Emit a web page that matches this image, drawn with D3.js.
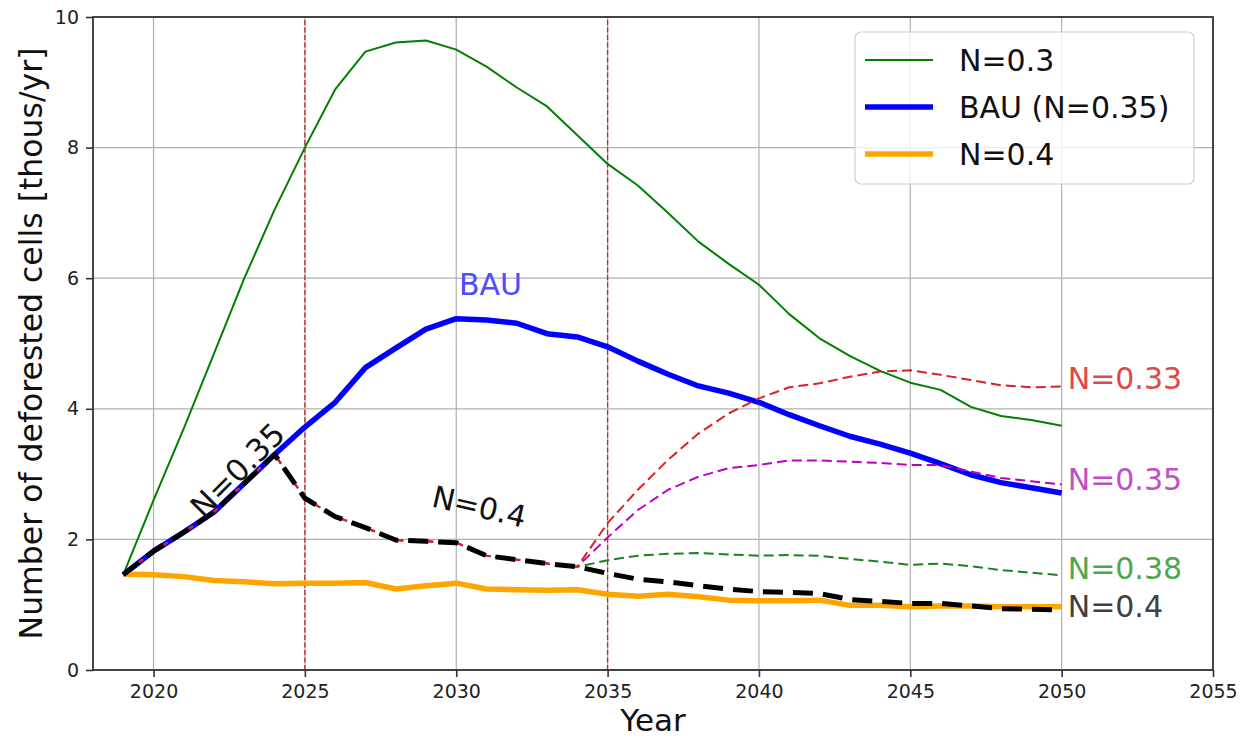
<!DOCTYPE html>
<html>
<head>
<meta charset="utf-8">
<script src="https://cdn.jsdelivr.net/npm/d3@7/dist/d3.min.js"></script>
<style>
  body { margin: 0; background: #fff; }
  text { font-family: "DejaVu Sans", Verdana, sans-serif; }
</style>
</head>
<body>
<div id="chart"></div>
<script>

// data (thousand deforested cells per year)
var years = [2019, 2020, 2021, 2022, 2023, 2024, 2025, 2026, 2027, 2028, 2029,
             2030, 2031, 2032, 2033, 2034, 2035, 2036, 2037, 2038, 2039, 2040,
             2041, 2042, 2043, 2044, 2045, 2046, 2047, 2048, 2049, 2050];

var n030 = [1.46, 2.60, 3.70, 4.85, 6.00, 7.05, 8.00, 8.89, 9.47, 9.61, 9.64,
            9.50, 9.24, 8.92, 8.63, 8.19, 7.75, 7.42, 7.00, 6.56, 6.22, 5.90,
            5.45, 5.08, 4.81, 4.58, 4.40, 4.29, 4.03, 3.89, 3.83, 3.74];

var bau = [1.46, 1.82, 2.11, 2.42, 2.86, 3.30, 3.72, 4.10, 4.63, 4.93, 5.22,
           5.38, 5.36, 5.31, 5.15, 5.10, 4.95, 4.73, 4.53, 4.35, 4.24, 4.10,
           3.91, 3.74, 3.58, 3.46, 3.32, 3.16, 2.99, 2.87, 2.79, 2.71];

var n040 = [1.47, 1.46, 1.43, 1.37, 1.35, 1.32, 1.33, 1.33, 1.34, 1.24, 1.29,
            1.33, 1.24, 1.23, 1.22, 1.23, 1.16, 1.13, 1.16, 1.12, 1.07, 1.06,
            1.06, 1.07, 0.99, 0.99, 0.97, 0.98, 0.98, 0.97, 0.97, 0.97];

// BAU until 2024, then switched to N=0.4
var switch040 = [1.46, 1.82, 2.11, 2.42, 2.86, 3.30, 2.63, 2.35, 2.18, 1.99, 1.97,
                 1.95, 1.75, 1.69, 1.63, 1.58, 1.48, 1.39, 1.35, 1.29, 1.24, 1.20,
                 1.19, 1.17, 1.08, 1.05, 1.02, 1.02, 0.98, 0.94, 0.93, 0.92];

// second switch in 2034
var branchYears = [2034, 2035, 2036, 2037, 2038, 2039, 2040, 2041, 2042,
                   2043, 2044, 2045, 2046, 2047, 2048, 2049, 2050];
var branch033 = [1.58, 2.25, 2.76, 3.22, 3.62, 3.93, 4.16, 4.33, 4.39,
                 4.49, 4.57, 4.59, 4.52, 4.44, 4.36, 4.33, 4.34];
var branch035 = [1.58, 2.03, 2.45, 2.76, 2.96, 3.09, 3.14, 3.21, 3.21,
                 3.19, 3.17, 3.14, 3.14, 3.04, 2.94, 2.89, 2.84];
var branch038 = [1.58, 1.68, 1.75, 1.78, 1.79, 1.77, 1.75, 1.76, 1.75,
                 1.70, 1.66, 1.61, 1.63, 1.59, 1.53, 1.49, 1.45];

var policyYears = [2025, 2035];

var xTicks = [2020, 2025, 2030, 2035, 2040, 2045, 2050, 2055];
var yTicks = [0, 2, 4, 6, 8, 10];

// end labels: [text, y value, colour]
var endLabels = [
  ['N=0.33', 4.47, '#e04848'],
  ['N=0.35', 2.91, '#c24fc2'],
  ['N=0.38', 1.56, '#4ea64e'],
  ['N=0.4', 0.97, '#404040']
];

var width = 1244;
var height = 738;
var margin = {top: 17, right: 31, bottom: 68, left: 93};

var svg = d3.select('#chart')
  .append('svg')
  .attr('width', width)
  .attr('height', height);

var x = d3.scaleLinear()
  .domain([2018, 2055])
  .range([margin.left, width - margin.right]);

var y = d3.scaleLinear()
  .domain([0, 10])
  .range([height - margin.bottom, margin.top]);

function zip(xs, ys){
  return xs.map(function(d, i){ return [d, ys[i]]; });
}

// scenario path = shared path up to 2034 + its own branch
function with_branch(branch){
  var pre = zip(years, switch040).filter(function(d){ return d[0] < 2034; });
  return pre.concat(zip(branchYears, branch));
}

var line = d3.line()
  .x(function(d){ return x(d[0]); })
  .y(function(d){ return y(d[1]); });

// grid
///////////////////////////////////////
var grid = svg.append('g').classed('grid', true);

grid.selectAll('.vgrid')
  .data(xTicks)
  .enter()
  .append('line')
  .attr('x1', function(d){ return x(d); })
  .attr('x2', function(d){ return x(d); })
  .attr('y1', y(0))
  .attr('y2', y(10))
  .style('stroke', '#b0b0b0')
  .style('stroke-width', 1.2);

grid.selectAll('.hgrid')
  .data(yTicks)
  .enter()
  .append('line')
  .attr('x1', x(2018))
  .attr('x2', x(2055))
  .attr('y1', function(d){ return y(d); })
  .attr('y2', function(d){ return y(d); })
  .style('stroke', '#b0b0b0')
  .style('stroke-width', 1.2);

// policy switch years
svg.selectAll('.policy')
  .data(policyYears)
  .enter()
  .append('line')
  .attr('x1', function(d){ return x(d); })
  .attr('x2', function(d){ return x(d); })
  .attr('y1', y(0))
  .attr('y2', y(10))
  .style('stroke', '#cc2020')
  .style('stroke-width', 1.3)
  .style('stroke-dasharray', '5,2.5');

// lines
///////////////////////////////////////
var series = [
  {data: zip(years, n030), color: 'green', lw: 2, dash: null},
  {data: zip(years, bau), color: 'blue', lw: 5.5, dash: null},
  {data: zip(years, n040), color: 'orange', lw: 5.5, dash: null},
  {data: with_branch(branch038), color: '#1d811d', lw: 2, dash: '10,5'},
  {data: with_branch(branch035), color: '#bf00bf', lw: 2, dash: '10,5'},
  {data: with_branch(branch033), color: '#dd2020', lw: 2, dash: '10,5'},
  {data: zip(years, switch040), color: 'black', lw: 5, dash: '20,10'}
];

svg.selectAll('.series')
  .data(series)
  .enter()
  .append('path')
  .attr('d', function(d){ return line(d.data); })
  .style('fill', 'none')
  .style('stroke', function(d){ return d.color; })
  .style('stroke-width', function(d){ return d.lw; })
  .style('stroke-dasharray', function(d){ return d.dash; })
  .style('stroke-linejoin', 'round');

// axes
///////////////////////////////////////
var x_axis = svg.append('g')
  .attr('transform', 'translate(0,' + y(0) + ')')
  .call(d3.axisBottom(x)
    .tickValues(xTicks)
    .tickFormat(d3.format('d'))
    .tickSize(7)
    .tickPadding(8));

var y_axis = svg.append('g')
  .attr('transform', 'translate(' + x(2018) + ',0)')
  .call(d3.axisLeft(y)
    .tickValues(yTicks)
    .tickSize(7)
    .tickPadding(7));

[x_axis, y_axis].forEach(function(ax){
  ax.select('.domain').remove();
  ax.selectAll('.tick line')
    .style('stroke', '#333')
    .style('stroke-width', 1.6);
  ax.selectAll('.tick text')
    .style('font-size', '19px')
    .style('fill', '#222');
});

// frame
svg.append('rect')
  .attr('x', x(2018))
  .attr('y', y(10))
  .attr('width', x(2055) - x(2018))
  .attr('height', y(0) - y(10))
  .style('fill', 'none')
  .style('stroke', '#333')
  .style('stroke-width', 1.8);

svg.append('text')
  .text('Year')
  .attr('x', (x(2018) + x(2055)) / 2)
  .attr('y', 731)
  .style('text-anchor', 'middle')
  .style('font-size', '31px')
  .style('fill', '#111');

svg.append('text')
  .text('Number of deforested cells [thous/yr]')
  .attr('transform', 'translate(42,' + (y(0) + y(10)) / 2 + ') rotate(-90)')
  .style('text-anchor', 'middle')
  .style('font-size', '31.5px')
  .style('fill', '#111');

// annotations
///////////////////////////////////////
svg.append('text')
  .text('BAU')
  .attr('x', x(2031.13))
  .attr('y', y(5.9))
  .style('text-anchor', 'middle')
  .style('dominant-baseline', 'central')
  .style('font-size', '30px')
  .style('fill', '#4d4dff');

svg.append('text')
  .text('N=0.35')
  .attr('transform', 'translate(' + x(2022.77) + ',' + y(3.06) + ') rotate(-45)')
  .style('text-anchor', 'middle')
  .style('dominant-baseline', 'central')
  .style('font-size', '31px')
  .style('fill', '#111');

svg.append('text')
  .text('N=0.4')
  .attr('transform', 'translate(' + x(2030.76) + ',' + y(2.50) + ') rotate(13)')
  .style('text-anchor', 'middle')
  .style('dominant-baseline', 'central')
  .style('font-size', '30px')
  .style('fill', '#111');

svg.selectAll('.end-label')
  .data(endLabels)
  .enter()
  .append('text')
  .text(function(d){ return d[0]; })
  .attr('x', x(2050.2))
  .attr('y', function(d){ return y(d[1]); })
  .style('dominant-baseline', 'central')
  .style('font-size', '30px')
  .style('fill', function(d){ return d[2]; });

// legend
///////////////////////////////////////
var legend_items = [
  ['N=0.3', 'green', 2],
  ['BAU (N=0.35)', 'blue', 5.5],
  ['N=0.4', 'orange', 5.5]
];

var legend = svg.append('g')
  .attr('transform', 'translate(855,32)');

legend.append('rect')
  .attr('width', 339)
  .attr('height', 152)
  .attr('rx', 6)
  .attr('ry', 6)
  .style('fill', 'white')
  .style('fill-opacity', 0.8)
  .style('stroke', '#d0d0d0')
  .style('stroke-width', 1.2);

var legend_row = legend.selectAll('.legend-row')
  .data(legend_items)
  .enter()
  .append('g')
  .attr('transform', function(d, i){
    return 'translate(0,' + (28 + i * 47) + ')';
  });

legend_row.append('line')
  .attr('x1', 10)
  .attr('x2', 78)
  .style('stroke', function(d){ return d[1]; })
  .style('stroke-width', function(d){ return d[2]; });

legend_row.append('text')
  .text(function(d){ return d[0]; })
  .attr('x', 104)
  .style('dominant-baseline', 'central')
  .style('font-size', '30px')
  .style('fill', '#111');

</script>
</body>
</html>
